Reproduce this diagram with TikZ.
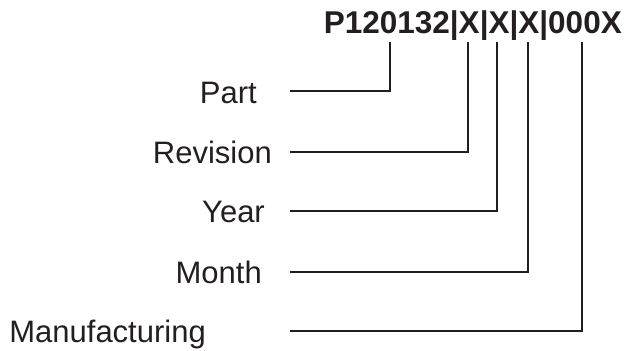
\documentclass[tikz,border=0pt]{standalone}
\usepackage{fontspec}
\setmainfont{Liberation Sans}
\definecolor{ink}{HTML}{231F20}
\begin{document}
\begin{tikzpicture}[x=1pt,y=-1pt,
  lbl/.style={anchor=base east, inner sep=0pt, text=ink, font=\fontsize{31}{37}\selectfont},
  code/.style={anchor=base east, inner sep=0pt, text=ink, font=\fontsize{31.5}{37}\selectfont\bfseries},
  conn/.style={draw=ink, line width=2pt}]
\useasboundingbox (0,0) rectangle (627,351);
\node[code] (code) at (622,33) {P120132|X|X|X|000X};
% labels
\node[lbl] (part) at (257,103) {Part};
\node[lbl] (rev) at (272,163) {Revision};
\node[lbl] (year) at (265,222) {Year};
\node[lbl] (month) at (262,283) {Month};
\node[lbl] (manu) at (206,342) {Manufacturing};
% line starts
\coordinate (pS) at (290,91);
\coordinate (rS) at (290,152);
\coordinate (yS) at (290,211);
\coordinate (mS) at (290,272);
\coordinate (fS) at (290,331);
% line tops under the code
\coordinate (pT) at (390,42);
\coordinate (rT) at (468,42);
\coordinate (yT) at (497,42);
\coordinate (mT) at (528,42);
\coordinate (fT) at (582,42);
\draw[conn] (pS) -| (pT);
\draw[conn] (rS) -| (rT);
\draw[conn] (yS) -| (yT);
\draw[conn] (mS) -| (mT);
\draw[conn] (fS) -| (fT);
\end{tikzpicture}
\end{document}
